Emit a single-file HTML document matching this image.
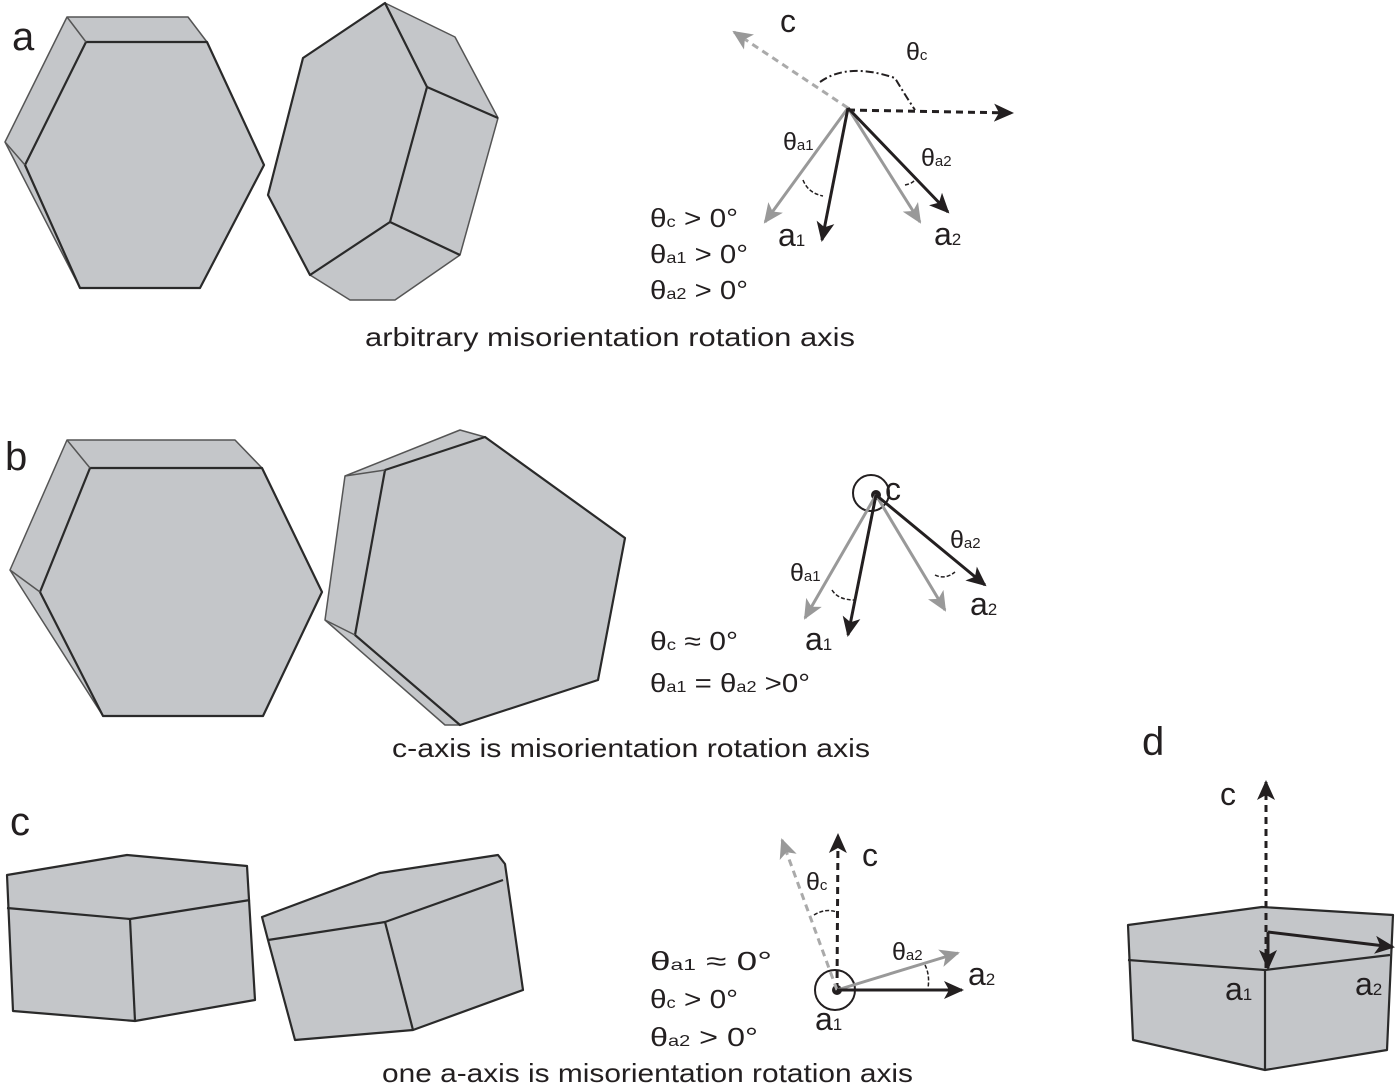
<!DOCTYPE html>
<html><head><meta charset="utf-8"><style>
html,body{margin:0;padding:0;background:#fff;}
svg{display:block;}
text{font-family:"Liberation Sans",sans-serif;fill:#231f20;}
</style></head><body>
<svg width="1400" height="1089" viewBox="0 0 1400 1089" xmlns="http://www.w3.org/2000/svg">
<defs>
<marker id="abL" markerWidth="22" markerHeight="22" refX="18" refY="11" orient="auto" markerUnits="userSpaceOnUse"><path d="M0,2 L20,11 L0,20 L5,11 z" fill="#231f20"/></marker>
<marker id="agL" markerWidth="22" markerHeight="22" refX="18" refY="11" orient="auto" markerUnits="userSpaceOnUse"><path d="M0,2 L20,11 L0,20 L5,11 z" fill="#999"/></marker>
</defs>
<g fill="#c4c6c9" stroke="#2a2a2a" stroke-width="2.2" stroke-linejoin="round">
<polygon points="67,17 188,17 207,42 264,165 200,288 80,288 5,142" stroke="#555" stroke-width="1.5"/>
<polygon points="86,42 207,42 264,165 200,288 80,288 25,165"/>
<line x1="67" y1="17" x2="86" y2="42" stroke="#555" stroke-width="1.5"/>
<line x1="5" y1="142" x2="25" y2="165" stroke="#555" stroke-width="1.5"/>
<polygon points="385,3 455,37 498,118 460,255 395,300 350,300 310,275 268,195 303,58" stroke="#555" stroke-width="1.5"/>
<polygon points="385,3 303,58 268,195 310,275 390,222 427,87"/>
<line x1="427" y1="87" x2="498" y2="118"/>
<line x1="390" y1="222" x2="460" y2="255"/>
<polygon points="67,440 235,440 262,468 322,592 263,716 103,716 10,570" stroke="#555" stroke-width="1.5"/>
<polygon points="90,468 262,468 322,592 263,716 103,716 40,592"/>
<line x1="67" y1="440" x2="90" y2="468" stroke="#555" stroke-width="1.5"/>
<line x1="10" y1="570" x2="40" y2="592" stroke="#555" stroke-width="1.5"/>
<polygon points="345,476 460,430 485,437 625,538 598,680 460,725 445,725 325,620" stroke="#555" stroke-width="1.5"/>
<polygon points="385,470 485,437 625,538 598,680 460,725 355,635"/>
<line x1="345" y1="476" x2="385" y2="470" stroke="#555" stroke-width="1.5"/>
<line x1="325" y1="620" x2="355" y2="635" stroke="#555" stroke-width="1.5"/>
<polygon points="7,875 127,855 247,866 255,1000 135,1021 13,1011"/>
<polyline points="7,908 130,919 250,900" fill="none"/>
<line x1="130" y1="919" x2="135" y2="1021"/>
<polygon points="262,917 380,873 498,855 505,864 523,990 413,1030 295,1040 268,940"/>
<polyline points="268,940 385,922 503,880" fill="none"/>
<line x1="385" y1="922" x2="413" y2="1030"/>
<polygon points="1128,925 1262,907 1393,915 1387,1050 1265,1070 1133,1040"/>
<polyline points="1128,960 1265,970 1390,955" fill="none"/>
<line x1="1265" y1="970" x2="1265" y2="1070"/>
</g>

<g font-size="40"><text x="12" y="50">a</text><text x="5" y="470">b</text><text x="10" y="835">c</text><text x="1142" y="755">d</text></g>

<g stroke-width="3" fill="none">
<line x1="848" y1="108" x2="734" y2="32" stroke="#aaa" stroke-dasharray="7,5" marker-end="url(#agL)"/>
<line x1="848" y1="110" x2="1012" y2="113" stroke="#231f20" stroke-dasharray="7,5" marker-end="url(#abL)"/>
<path d="M820,82 Q848,62 895,78 Q905,95 915,110" stroke="#231f20" stroke-width="2" stroke-dasharray="8,3,2,3"/>
<line x1="848" y1="108" x2="765" y2="222" stroke="#999" marker-end="url(#agL)"/>
<line x1="848" y1="108" x2="920" y2="222" stroke="#999" marker-end="url(#agL)"/>
<line x1="848" y1="108" x2="822" y2="240" stroke="#231f20" marker-end="url(#abL)"/>
<line x1="848" y1="108" x2="948" y2="212" stroke="#231f20" marker-end="url(#abL)"/>
<path d="M803,180 Q808,193 823,196" stroke="#231f20" stroke-width="1.5" stroke-dasharray="4,2"/>
<path d="M905,185 Q915,183 915,178" stroke="#231f20" stroke-width="1.5" stroke-dasharray="4,2"/>
</g>
<g font-size="32"><text x="780" y="32">c</text><text x="778" y="246">a<tspan font-size="17">1</tspan></text><text x="934" y="245">a<tspan font-size="17">2</tspan></text></g>
<g font-size="25"><text x="906" y="60">θ<tspan font-size="15">c</tspan></text><text x="783" y="150">θ<tspan font-size="15">a1</tspan></text><text x="921" y="166">θ<tspan font-size="15">a2</tspan></text>
</g>
<g font-size="26">
<text x="650" y="227" textLength="88" lengthAdjust="spacingAndGlyphs">θ<tspan font-size="16">c</tspan> &gt; 0°</text>
<text x="650" y="263" textLength="98" lengthAdjust="spacingAndGlyphs">θ<tspan font-size="16">a1</tspan> &gt; 0°</text>
<text x="650" y="299" textLength="98" lengthAdjust="spacingAndGlyphs">θ<tspan font-size="16">a2</tspan> &gt; 0°</text>
<text x="365" y="346" textLength="490" lengthAdjust="spacingAndGlyphs">arbitrary misorientation rotation axis</text>

<text x="650" y="650" textLength="88" lengthAdjust="spacingAndGlyphs">θ<tspan font-size="16">c</tspan> ≈ 0°</text>
<text x="650" y="692" textLength="160" lengthAdjust="spacingAndGlyphs">θ<tspan font-size="16">a1</tspan> = θ<tspan font-size="16">a2</tspan> &gt;0°</text>
<text x="392" y="757" textLength="478" lengthAdjust="spacingAndGlyphs">c-axis is misorientation rotation axis</text>

<text x="650" y="970" textLength="122" lengthAdjust="spacingAndGlyphs">θ<tspan font-size="16">a1</tspan> ≈ 0°</text>
<text x="650" y="1008" textLength="88" lengthAdjust="spacingAndGlyphs">θ<tspan font-size="16">c</tspan> &gt; 0°</text>
<text x="650" y="1046" textLength="108" lengthAdjust="spacingAndGlyphs">θ<tspan font-size="16">a2</tspan> &gt; 0°</text>
<text x="382" y="1082" textLength="531" lengthAdjust="spacingAndGlyphs">one a-axis is misorientation rotation axis</text>
</g>
<g font-size="25">
<text x="790" y="581">θ<tspan font-size="15">a1</tspan></text><text x="950" y="548">θ<tspan font-size="15">a2</tspan></text>
<text x="806" y="890">θ<tspan font-size="15">c</tspan></text><text x="892" y="960">θ<tspan font-size="15">a2</tspan></text>
</g>

<circle cx="871" cy="493" r="18" fill="none" stroke="#231f20" stroke-width="2"/>
<circle cx="876" cy="495" r="5" fill="#231f20"/>
<g stroke-width="3" fill="none">
<line x1="876" y1="495" x2="805" y2="618" stroke="#999" marker-end="url(#agL)"/>
<line x1="876" y1="495" x2="945" y2="610" stroke="#999" marker-end="url(#agL)"/>
<line x1="876" y1="495" x2="848" y2="635" stroke="#231f20" marker-end="url(#abL)"/>
<line x1="876" y1="495" x2="985" y2="585" stroke="#231f20" marker-end="url(#abL)"/>
<path d="M832,590 Q838,600 855,600" stroke="#231f20" stroke-width="1.5" stroke-dasharray="4,2"/>
<path d="M935,575 Q945,580 955,572" stroke="#231f20" stroke-width="1.5" stroke-dasharray="4,2"/>
</g>
<g font-size="32"><text x="885" y="500">c</text><text x="805" y="650">a<tspan font-size="17">1</tspan></text><text x="970" y="615">a<tspan font-size="17">2</tspan></text></g>

<circle cx="835" cy="990" r="20" fill="none" stroke="#231f20" stroke-width="2"/>
<circle cx="837" cy="990" r="5" fill="#231f20"/>
<g stroke-width="3" fill="none">
<line x1="837" y1="990" x2="838" y2="835" stroke="#231f20" stroke-dasharray="7,5" marker-end="url(#abL)"/>
<line x1="837" y1="990" x2="782" y2="840" stroke="#aaa" stroke-dasharray="7,5" marker-end="url(#agL)"/>
<line x1="837" y1="990" x2="958" y2="953" stroke="#999" marker-end="url(#agL)"/>
<line x1="837" y1="990" x2="962" y2="990" stroke="#231f20" marker-end="url(#abL)"/>
<path d="M814,915 Q825,908 837,912" stroke="#231f20" stroke-width="1.5" stroke-dasharray="4,2"/>
<path d="M925,965 Q930,975 928,988" stroke="#231f20" stroke-width="1.5" stroke-dasharray="4,2"/>
</g>
<g font-size="32"><text x="862" y="866">c</text><text x="968" y="985">a<tspan font-size="17">2</tspan></text><text x="815" y="1030">a<tspan font-size="17">1</tspan></text></g>

<g stroke-width="3" fill="none">
<line x1="1266" y1="968" x2="1266" y2="782" stroke="#231f20" stroke-dasharray="7,5" marker-end="url(#abL)"/>
<line x1="1268" y1="932" x2="1268" y2="968" stroke="#231f20" marker-end="url(#abL)"/>
<line x1="1268" y1="932" x2="1393" y2="947" stroke="#231f20" marker-end="url(#abL)"/>
</g>
<g font-size="32"><text x="1220" y="805">c</text><text x="1225" y="1000">a<tspan font-size="17">1</tspan></text><text x="1355" y="995">a<tspan font-size="17">2</tspan></text></g>
</svg>
</body></html>
